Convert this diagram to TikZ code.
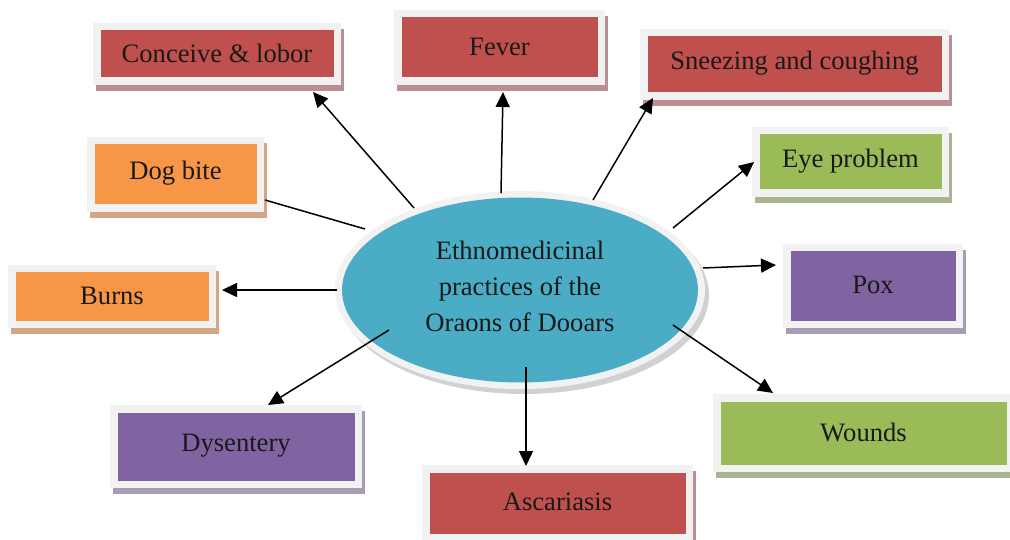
\documentclass[tikz,border=0pt]{standalone}
\usepackage{fontspec}
\setmainfont{Liberation Serif}
\newfontfamily\timesfont{Liberation Serif}
\usetikzlibrary{arrows.meta}
\definecolor{cred}{HTML}{C0504D}
\definecolor{corange}{HTML}{F79646}
\definecolor{cgreen}{HTML}{9BBB59}
\definecolor{cpurple}{HTML}{8064A2}
\definecolor{sred}{HTML}{B98F91}
\definecolor{sorange}{HTML}{D6A684}
\definecolor{sgreen}{HTML}{A9B592}
\definecolor{spurple}{HTML}{A69CB4}
\definecolor{cframe}{HTML}{F2F2F2}
\definecolor{cblue}{HTML}{4BACC6}
\tikzset{
  lbl/.style={font=\timesfont\fontsize{26.6}{30}\selectfont, text=black!90, inner sep=0pt},
  conn/.style={line width=1.5pt, black},
  arr/.style={conn, -{Triangle[length=15pt,width=14pt]}},
}
% name, ox1, oy1, ox2, oy2, fill, shadow, text
\newcommand\ebox[8]{%
  \fill[#7] (#2+3,#3+6) rectangle (#4+3,#5+6);
  \fill[cframe] (#2,#3) rectangle (#4,#5);
  \fill[#6] (#2+7.5,#3+7.5) rectangle (#4-7.5,#5-7.5);
  \node[lbl] (#1) at ({(#2+#4)/2},{(#3+#5)/2-1}) {#8};
}
\begin{document}
\begin{tikzpicture}[x=1pt,y=-1pt]
\useasboundingbox (0,0) rectangle (1010,540);
\clip (0,0) rectangle (1010,540);
\fill[white] (0,0) rectangle (1010,540);

% boxes
\ebox{conceive}{93}{23}{341}{85}{cred}{sred}{Conceive \& lobor}
\ebox{fever}{394}{10}{605}{85}{cred}{sred}{Fever}
\ebox{sneeze}{640}{29}{949}{100}{cred}{sred}{Sneezing and coughing}
\ebox{eye}{752}{127}{949}{197}{cgreen}{sgreen}{Eye problem}
\ebox{pox}{783}{244}{963}{328}{cpurple}{spurple}{Pox}
\ebox{wounds}{713}{394}{1014}{472}{cgreen}{sgreen}{Wounds}
\ebox{ascar}{422}{465}{693}{541}{cred}{sred}{Ascariasis}
\ebox{dysen}{110}{405}{362}{488}{cpurple}{spurple}{Dysentery}
\ebox{burns}{8}{265}{216}{328}{corange}{sorange}{Burns}
\ebox{dog}{87}{137}{264}{212}{corange}{sorange}{Dog bite}

% central ellipse
\fill[black!18] (524,295) ellipse [x radius=185, y radius=99];
\fill[cframe] (520,290) ellipse [x radius=185, y radius=99];
\fill[cblue] (520,290) ellipse [x radius=178, y radius=92.5];
\node[lbl, align=center, font=\timesfont\fontsize{26.6}{36}\selectfont] (center) at (520,286)
  {Ethnomedicinal\\practices of the\\Oraons of Dooars};

% connector end points
\coordinate (sConceive) at (414,208); \coordinate (tConceive) at (313,92);
\coordinate (sFever) at (501,193);    \coordinate (tFever) at (503,92);
\coordinate (sSneeze) at (593,200);   \coordinate (tSneeze) at (653,98);
\coordinate (sEye) at (673,228);      \coordinate (tEye) at (754,162);
\coordinate (sPox) at (703,268);      \coordinate (tPox) at (776,265);
\coordinate (sWounds) at (673,325);   \coordinate (tWounds) at (773,393);
\coordinate (sAscar) at (526,367);    \coordinate (tAscar) at (526,466);
\coordinate (sDysen) at (389,330);    \coordinate (tDysen) at (268,405);
\coordinate (sBurns) at (337,290);    \coordinate (tBurns) at (222,290);
\coordinate (sDog) at (365,229);      \coordinate (tDog) at (265,200);

\draw[arr] (sConceive) -- (tConceive);
\draw[arr] (sFever) -- (tFever);
\draw[arr] (sSneeze) -- (tSneeze);
\draw[arr] (sEye) -- (tEye);
\draw[arr] (sPox) -- (tPox);
\draw[arr] (sWounds) -- (tWounds);
\draw[arr] (sAscar) -- (tAscar);
\draw[arr] (sDysen) -- (tDysen);
\draw[arr] (sBurns) -- (tBurns);
\draw[conn] (sDog) -- (tDog);
\end{tikzpicture}
\end{document}
